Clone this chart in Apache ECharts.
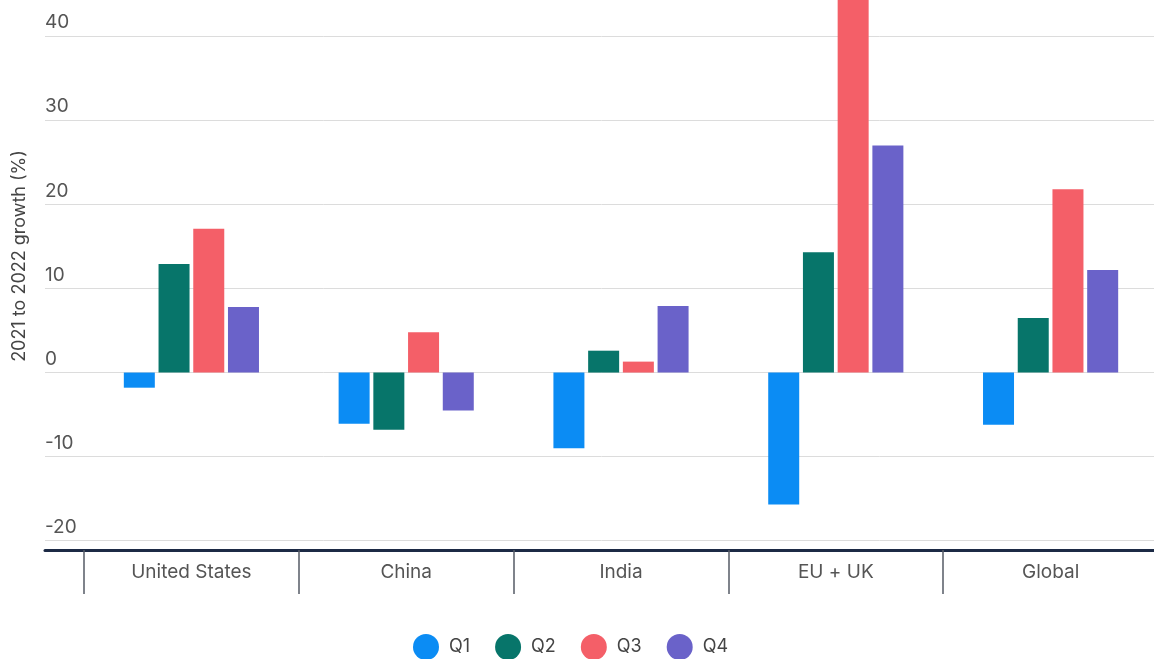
<!DOCTYPE html>
<html>
<head>
<meta charset="utf-8">
<script src="https://cdn.jsdelivr.net/npm/echarts@6/dist/echarts.min.js"></script>
<style>
html,body{margin:0;padding:0;background:#fff;overflow:hidden;width:1154px;height:659px;}
#chart{width:1158px;height:659px;}
</style>
</head>
<body>
<div id="chart"></div>
<script>
const categories = ['United States', 'China', 'India', 'EU + UK', 'Global'];
const seriesNames = ['Q1', 'Q2', 'Q3', 'Q4'];
const q1 = [-1.8, -6.1, -9.0, -15.7, -6.2];
const q2 = [12.9, -6.8, 2.6, 14.3, 6.5];
const q3 = [17.1, 4.8, 1.3, 46.0, 21.8];
const q4 = [7.8, -4.5, 7.9, 27.0, 12.2];
const colors = ['#0b8cf4', '#07756a', '#f45f68', '#6a62c9'];
const yTitle = '2021 to 2022 growth (%)';
const yMin = -21.1, yMax = 44.3;

const font = 'Inter, "Noto Sans", sans-serif';
const values = [q1, q2, q3, q4];

const chart = echarts.init(document.getElementById('chart'), null, {renderer: 'canvas'});
chart.setOption({
  backgroundColor: '#fff',
  animation: false,
  textStyle: {fontFamily: font},
  grid: [
    {left: 84, right: 0, top: 0, bottom: 109},
    {left: 45, right: 0, top: 0, bottom: 109}
  ],
  xAxis: [
    {
      type: 'category', gridIndex: 0, data: categories,
      axisLine: {show: false, onZero: false},
      axisTick: {show: true, length: 44, lineStyle: {color: '#555b66', width: 1.5}},
      axisLabel: {color: '#555', fontSize: 19, margin: 13, fontFamily: font},
      splitLine: {show: false}
    },
    {
      type: 'value', gridIndex: 1, min: 0, max: 1,
      axisLine: {show: true, onZero: false, lineStyle: {color: '#1c2a45', width: 3}},
      axisTick: {show: false}, axisLabel: {show: false}, splitLine: {show: false}
    }
  ],
  yAxis: [
    {type: 'value', gridIndex: 0, min: yMin, max: yMax, show: false, splitLine: {show: false}},
    {
      type: 'value', gridIndex: 1, min: yMin, max: yMax, splitNumber: 6,
      axisLine: {show: false}, axisTick: {show: false},
      axisLabel: {
        inside: true, margin: 0, color: '#555', fontSize: 19, fontFamily: font,
        verticalAlign: 'bottom', align: 'left', padding: [0, 0, 4, 0],
        showMinLabel: false, showMaxLabel: false
      },
      splitLine: {show: true, showMinLine: false, showMaxLine: false, lineStyle: {color: '#dcdcdc', width: 1}}
    }
  ],
  legend: {
    data: seriesNames, left: 413, top: 634, padding: 0, icon: 'circle',
    itemWidth: 26, itemHeight: 26, itemGap: 25,
    textStyle: {color: '#444', fontSize: 18, fontFamily: font, padding: [0, 0, 0, 5]}
  },
  graphic: [{
    type: 'text', x: 20, y: 256, rotation: Math.PI / 2,
    style: {text: yTitle, fill: '#444', font: '18px ' + font, textAlign: 'center', textVerticalAlign: 'middle'}
  }],
  series: seriesNames.map((n, i) => ({
    name: n, type: 'bar', xAxisIndex: 0, yAxisIndex: 0,
    data: values[i], barWidth: 31, barGap: '12%',
    itemStyle: {color: colors[i]}
  }))
});
</script>
</body>
</html>
